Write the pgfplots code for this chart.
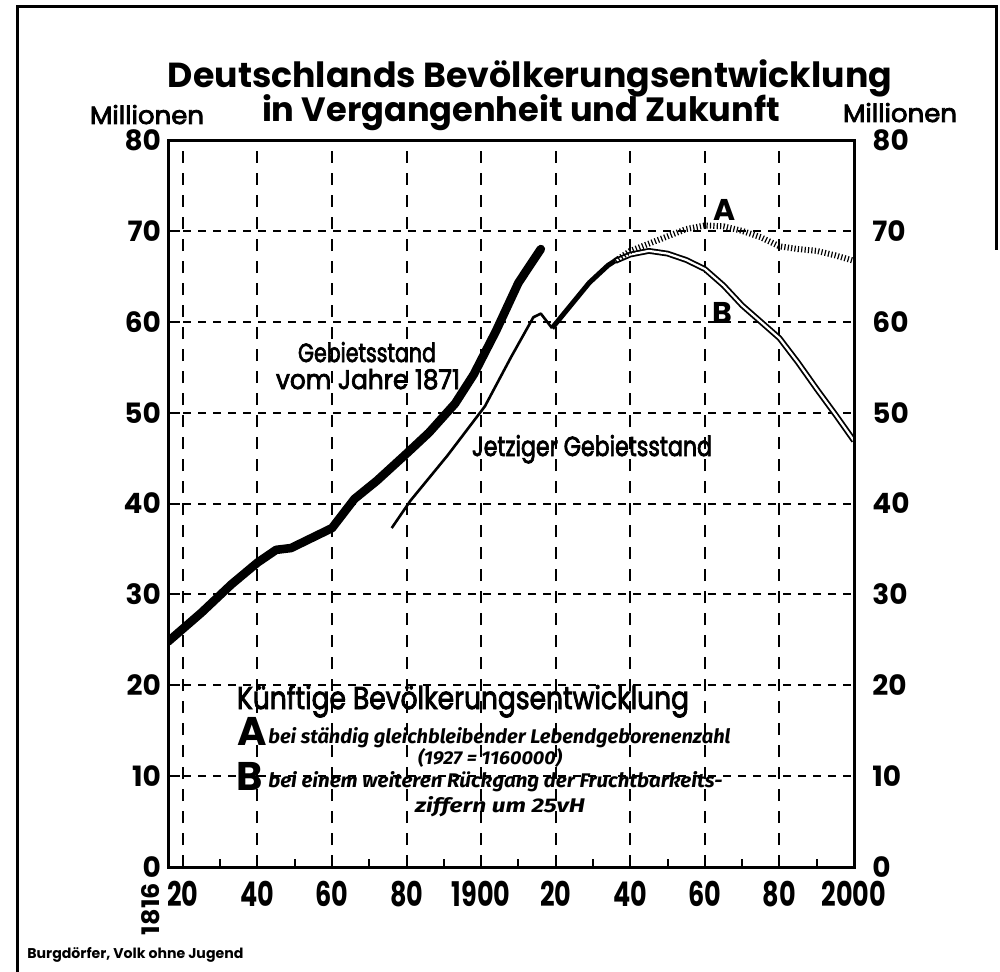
\documentclass[border=0pt]{standalone}
\usepackage{fontspec}
\setmainfont{Poppins}
\newfontfamily\itf{Fira Sans}
\newfontfamily\medf{Poppins}[FakeBold=3]
\usepackage{graphicx}
\usepackage{pgfplots}
\pgfplotsset{compat=1.18}
\newcommand\cx[1]{\scalebox{0.75}[1]{#1}}

\begin{document}
\begin{tikzpicture}
\useasboundingbox (0,0) rectangle (500pt,485.5pt);
\begin{axis}[
  at={(84pt,52pt)}, anchor=south west, scale only axis,
  width=343pt, height=363.5pt,
  xmin=1816, xmax=2000, ymin=0, ymax=80,
  xtick={1820,1840,...,2000},
  xticklabels={\cx{20},\cx{40},\cx{60},\cx{80},\cx{1900},\cx{20},\cx{40},\cx{60},\cx{80},\cx{2000}},
  minor xtick={1830,1850,...,1990},
  ytick={0,10,...,80},
  grid=major,
  major x grid style={black, line width=1pt, dash pattern=on 6pt off 5pt},
  major y grid style={black, line width=1pt, dash pattern=on 4pt off 3.5pt},
  axis line style={line width=1.5pt},
  tick style={black, line width=1pt},
  xtick pos=bottom, ytick pos=left, tick align=inside,
  major tick length=6pt, minor tick length=4pt,
  yticklabel style={font=\bfseries\fontsize{14}{14}\selectfont},
  xticklabel style={font=\bfseries\fontsize{17}{17}\selectfont, inner sep=0pt, yshift=-7pt},
  /pgf/number format/assume math mode=true,
]
% Gebietsstand vom Jahre 1871
\addplot[line width=4.3pt, line join=round, line cap=round] coordinates {
(1816,24.8) (1825,28.0) (1833,31.1) (1840,33.5) (1845,34.9) (1849,35.1)
(1855,36.3) (1860,37.3) (1866,40.5) (1872,42.5) (1880,45.5) (1886,47.8)
(1893,51.0) (1898,54.2) (1904,59.0) (1910,64.3) (1916,68.0)};
% Jetziger Gebietsstand
\addplot[line width=1.3pt, line join=round] coordinates {
(1876,37.3) (1881,40.3) (1891,45.3) (1901,50.7) (1908,56.1) (1914,60.5)
(1916,60.9) (1919,59.3)};
\addplot[line width=2.5pt, line join=round] coordinates {
(1919,59.3) (1923,61.3) (1929,64.3) (1934,66.2) (1937,67.0)};
% B
\addplot[double=white, double distance=1.1pt, line width=0.9pt, line join=round] coordinates {
(1936,66.7) (1940,67.4) (1945,67.8) (1950,67.5) (1955,66.8) (1960,65.8)
(1965,64.0) (1970,61.8) (1975,60.0) (1980,58.2) (1985,55.5) (1990,52.6)
(1995,49.8) (2000,46.9)};
% A
\addplot[line width=3pt, dash pattern=on 0.6pt off 1.1pt] coordinates {
(1936,66.7) (1940,67.8) (1945,68.6) (1950,69.4) (1955,70.2) (1960,70.6)
(1965,70.5) (1970,70.0) (1975,69.3) (1980,68.3) (1985,68.0) (1990,67.8)
(1995,67.3) (2000,66.7)};
\end{axis}
\begin{axis}[
  at={(84pt,52pt)}, anchor=south west, scale only axis,
  width=343pt, height=363.5pt,
  xmin=1816, xmax=2000, ymin=0, ymax=80,
  hide x axis, axis y line*=right,
  ytick={0,10,...,80}, major tick length=0pt,
  y axis line style={line width=1.5pt},
  yticklabel style={font=\bfseries\fontsize{14}{14}\selectfont, inner sep=1pt, xshift=8pt},
  /pgf/number format/assume math mode=true,
]
\end{axis}
\begin{scope}[x=0.5pt,y=-0.5pt,yshift=485.5pt]
 \draw[line width=1.5pt] (17,975) -- (17,7) -- (996,7) -- (996,250);
 \node[inner sep=0, anchor=base] at (530,88) {\resizebox{362pt}{!}{\bfseries Deutschlands Bevölkerungsentwicklung}};
 \node[inner sep=0, anchor=base] at (521,122) {\resizebox{259pt}{!}{\bfseries in Vergangenheit und Zukunft}};
 \node[inner sep=0, anchor=base] at (147,124) {\resizebox{57pt}{9.5pt}{\medf Millionen}};
 \node[inner sep=0, anchor=base] at (900,122) {\resizebox{57pt}{9.5pt}{\medf Millionen}};
 \node[inner sep=0, anchor=base] at (367,362) {\resizebox{69pt}{10pt}{\medf Gebietsstand}};
 \node[inner sep=0, anchor=base] at (368,389) {\resizebox{92pt}{10pt}{\medf vom Jahre 1871}};
 \node[inner sep=0, anchor=base] at (592,456) {\resizebox{120pt}{10.5pt}{\medf Jetziger Gebietsstand}};
 \node[inner sep=0] at (725,210) {\fontsize{15}{15}\selectfont\bfseries A};
 \node[inner sep=0] at (722,313) {\fontsize{15}{15}\selectfont\bfseries B};
 \node[inner sep=0, anchor=base] at (463,709) {\resizebox{226pt}{12pt}{\medf Künftige Bevölkerungsentwicklung}};
 \node[inner sep=0, anchor=base] at (252,745) {\fontsize{20}{20}\selectfont\bfseries A};
 \node[inner sep=0, anchor=base west] at (268,743) {\resizebox{231pt}{8pt}{\itf\bfseries\itshape bei ständig gleichbleibender Lebendgeborenenzahl}};
 \node[inner sep=0, anchor=base] at (490,764) {\resizebox{72pt}{8pt}{\itf\bfseries\itshape (1927 = 1160000)}};
 \node[inner sep=0, anchor=base] at (250,790) {\fontsize{20}{20}\selectfont\bfseries B};
 \node[inner sep=0, anchor=base west] at (268,787) {\resizebox{227pt}{8pt}{\itf\bfseries\itshape bei einem weiteren Rückgang der Fruchtbarkeits-}};
 \node[inner sep=0, anchor=base] at (500,812) {\resizebox{85pt}{8pt}{\itf\bfseries\itshape ziffern um 25vH}};
 \node[inner sep=0, rotate=90] at (151,909) {\resizebox{26pt}{9pt}{\bfseries 1816}};
 \node[inner sep=0, anchor=base west] at (27,958) {\resizebox{108pt}{!}{\bfseries Burgdörfer, Volk ohne Jugend}};
\end{scope}
\end{tikzpicture}
\end{document}
